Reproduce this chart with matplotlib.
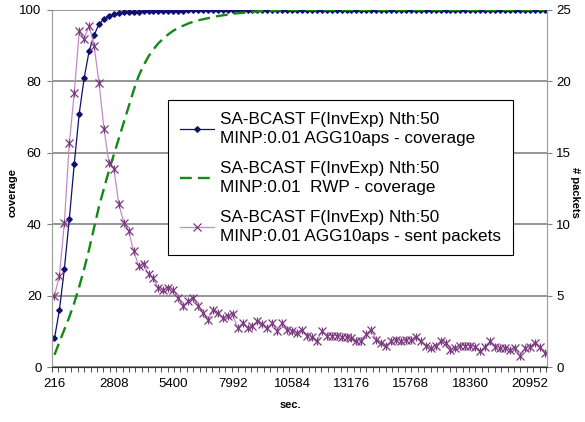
import numpy as np
import matplotlib
matplotlib.use("Agg")
import matplotlib.pyplot as plt

plt.rcParams["font.family"] = ["Liberation Sans", "DejaVu Sans"]

# sample times (sec.), one point every 216 s
step = 216
sec = [step * k for k in range(1, 101)]

cov_agg = [8.0, 16.0, 27.5, 41.5, 57.0, 71.0, 81.0, 88.5, 93.0, 96.0,
           97.5, 98.3, 98.8, 99.1, 99.3, 99.4, 99.5, 99.5, 99.6, 99.6,
           99.7, 99.7, 99.7, 99.8, 99.8, 99.8, 99.8, 99.9, 99.9, 99.9,
           99.9, 99.9, 99.9, 100.0, 100.0, 100.0, 100.0, 100.0, 100.0, 100.0,
           100.0, 100.0, 100.0, 100.0, 100.0, 100.0, 100.0, 100.0, 100.0, 100.0,
           100.0, 100.0, 100.0, 100.0, 100.0, 100.0, 100.0, 100.0, 100.0, 100.0,
           100.0, 100.0, 100.0, 100.0, 100.0, 100.0, 100.0, 100.0, 100.0, 100.0,
           100.0, 100.0, 100.0, 100.0, 100.0, 100.0, 100.0, 100.0, 100.0, 100.0,
           100.0, 100.0, 100.0, 100.0, 100.0, 100.0, 100.0, 100.0, 100.0, 100.0,
           100.0, 100.0, 100.0, 100.0, 100.0, 100.0, 100.0, 100.0, 100.0, 100.0]

cov_rwp = [3.4, 7.0, 10.5, 14.0, 18.0, 22.5, 27.5, 33.0, 39.0, 45.0,
           50.0, 55.0, 59.5, 64.0, 68.5, 73.0, 77.5, 81.5, 84.5, 87.0,
           89.0, 90.7, 92.0, 93.2, 94.2, 95.0, 95.6, 96.2, 96.7, 97.1,
           97.4, 97.7, 98.0, 98.3, 98.5, 98.7, 98.9, 99.1, 99.2, 99.4,
           99.5, 99.6, 99.7, 99.8, 99.8, 99.9, 99.9, 100.0, 100.0, 100.0,
           100.0, 100.0, 100.0, 100.0, 100.0, 100.0, 100.0, 100.0, 100.0, 100.0,
           100.0, 100.0, 100.0, 100.0, 100.0, 100.0, 100.0, 100.0, 100.0, 100.0,
           100.0, 100.0, 100.0, 100.0, 100.0, 100.0, 100.0, 100.0, 100.0, 100.0,
           100.0, 100.0, 100.0, 100.0, 100.0, 100.0, 100.0, 100.0, 100.0, 100.0,
           100.0, 100.0, 100.0, 100.0, 100.0, 100.0, 100.0, 100.0, 100.0, 100.0]

sent_pk = [5.0, 6.4, 10.1, 15.7, 19.2, 23.5, 23.0, 23.9, 22.5, 19.9,
           16.7, 14.3, 13.9, 11.4, 10.1, 9.5, 8.1, 7.1, 7.2, 6.5,
           6.2, 5.5, 5.4, 5.5, 5.4, 4.8, 4.3, 4.6, 4.8, 4.3,
           3.8, 3.3, 4.0, 3.8, 3.4, 3.6, 3.7, 2.7, 3.1, 2.7,
           2.9, 3.2, 3.0, 2.7, 3.1, 2.5, 3.1, 2.6, 2.5, 2.4,
           2.6, 2.2, 2.1, 1.8, 2.5, 2.2, 2.2, 2.2, 2.1, 2.1,
           2.0, 1.8, 1.8, 2.3, 2.6, 1.9, 1.7, 1.5, 1.8, 1.9,
           1.8, 1.9, 1.9, 2.1, 1.8, 1.5, 1.3, 1.5, 1.8, 1.7,
           1.2, 1.3, 1.5, 1.5, 1.5, 1.4, 1.1, 1.4, 1.8, 1.4,
           1.3, 1.3, 1.2, 1.3, 0.8, 1.3, 1.4, 1.7, 1.4, 1.0]

xtick_vals = [216, 2808, 5400, 7992, 10584, 13176, 15768, 18360, 20952]

lab1 = "SA-BCAST F(InvExp) Nth:50\nMINP:0.01 AGG10aps - coverage"
lab2 = "SA-BCAST F(InvExp) Nth:50\nMINP:0.01  RWP - coverage"
lab3 = "SA-BCAST F(InvExp) Nth:50\nMINP:0.01 AGG10aps - sent packets"

fig = plt.figure(figsize=(5.85, 4.22), dpi=100)
ax = fig.add_axes([52 / 585, 55 / 422, 495 / 585, 357 / 422])
ax2 = ax.twinx()

l1, = ax.plot(sec, cov_agg, color="#101070", lw=0.9, marker="D", ms=2.8,
              label=lab1)
l2, = ax.plot(sec, cov_rwp, color="#138a13", lw=1.7, ls=(0, (5, 2.6)),
              label=lab2)
l3, = ax2.plot(sec, sent_pk, color="#c38ac8", lw=0.9, marker="x", ms=5.5,
               mec="#7a3a7e", mew=0.9, label=lab3)
ax2.plot(sec, sent_pk, ls="none", marker="|", ms=5.5, mec="#7a3a7e", mew=0.9)

ax.set_xlim(step / 2, step * 100.5)
ax.set_ylim(0, 100)
ax2.set_ylim(0, 25)

ax.set_yticks([0, 20, 40, 60, 80, 100])
ax2.set_yticks([0, 5, 10, 15, 20, 25])
ax.set_xticks(xtick_vals)
ax.set_xticks(np.arange(step / 2, step * 100.5, 280), minor=True)

ax.grid(axis="y", color="#8c8c8c", lw=1.3)
ax.set_axisbelow(True)

for a in (ax, ax2):
    a.spines["top"].set_visible(False)
    a.spines["left"].set_color("#a0a0a0")
    a.spines["right"].set_color("#a0a0a0")
    a.spines["bottom"].set_color("#303030")

ax.tick_params(axis="y", labelsize=9.5, length=3.5, color="#808080", pad=4)
ax2.tick_params(axis="y", labelsize=9.5, length=3.5, color="#808080", pad=3)
ax.tick_params(axis="x", which="major", labelsize=9.5, length=0, pad=8)
ax.tick_params(axis="x", which="minor", length=3.5, color="#303030")

ax.set_xlabel("sec.", fontsize=8, fontweight="bold")
ax.xaxis.set_label_coords((290 - 52) / 495, (22 - 55) / 357)
ax.set_ylabel("coverage", fontsize=8, fontweight="bold")
ax.yaxis.set_label_coords((18 - 52) / 495, 0.49)
ax2.set_ylabel("# packets", fontsize=8, fontweight="bold", rotation=270,
               va="center")
ax2.yaxis.set_label_coords((575 - 52) / 495, 0.49)

leg = ax2.legend(handles=[l1, l2, l3], loc="upper left",
                 bbox_to_anchor=(168 / 585, 1 - 100 / 422),
                 bbox_transform=fig.transFigure, borderaxespad=0,
                 fontsize=12.3, frameon=True, fancybox=False, framealpha=1,
                 edgecolor="black", numpoints=1, handlelength=2.0,
                 handletextpad=0.35, labelspacing=0.9, borderpad=0.7)
leg.get_frame().set_linewidth(0.8)
for t in leg.get_texts():
    t.set_linespacing(1.3)

fig.savefig("out.png", dpi=100)
